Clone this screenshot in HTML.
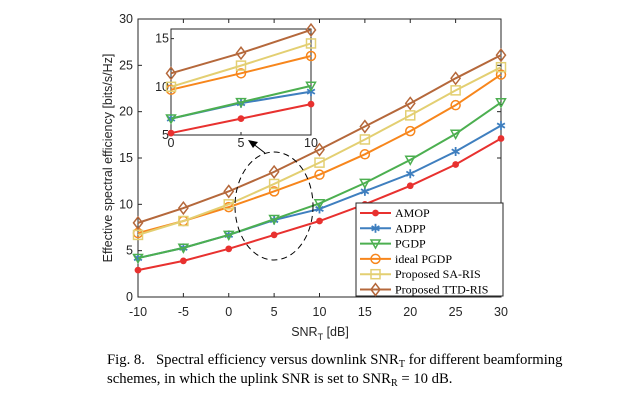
<!DOCTYPE html>
<html><head><meta charset="utf-8"><style>
body{margin:0;background:#fff;width:628px;height:403px;overflow:hidden}
svg{display:block}
.t{font-family:"Liberation Sans",sans-serif;font-size:12.5px;fill:#262626}
.s{font-family:"Liberation Serif",serif;fill:#000}
</style></head><body>
<svg id="c" width="628" height="403"></svg>
<script>
const xs=[-10,-5,0,5,10,15,20,25,30];
const names=["AMOP","ADPP","PGDP","ideal PGDP","Proposed SA-RIS","Proposed TTD-RIS"];
const amop=[2.9,3.9,5.2,6.7,8.2,10.0,12.0,14.3,17.1];
const adpp=[4.2,5.3,6.7,8.3,9.5,11.4,13.3,15.7,18.5];
const pgdp=[4.2,5.3,6.7,8.4,10.1,12.3,14.8,17.6,21.0];
const ideal=[6.9,8.2,9.7,11.4,13.2,15.4,17.9,20.7,24.0];
const sa=[6.7,8.2,10.0,12.2,14.5,17.0,19.6,22.3,24.8];
const ttd=[8.0,9.6,11.4,13.5,15.9,18.4,20.9,23.6,26.1];
const xTicks=[-10,-5,0,5,10,15,20,25,30];
const yTicks=[0,5,10,15,20,25,30];
const ixTicks=[0,5,10];
const iyTicks=[5,10,15];
const series=[amop,adpp,pgdp,ideal,sa,ttd];
const colors=["#e8312f","#3f7fbf","#4caf50","#f7861c","#e3cf72","#b5683b"];
const marks=["dot","star","tri","circ","sq","dia"];
const NS="http://www.w3.org/2000/svg";
const svg=document.getElementById('c');
function el(t,a,p){const e=document.createElementNS(NS,t);for(const k in a)e.setAttribute(k,a[k]);(p||svg).appendChild(e);return e;}
const X0=138,X1=501,Y0=297,Y1=19;
const sx=v=>X0+(v+10)/40*(X1-X0), sy=v=>Y0-v/30*(Y0-Y1);
const IX0=171,IX1=311,IY0=135,IY1=29;
const isx=v=>IX0+v/10*(IX1-IX0), isy=v=>IY0-(v-5)/11*(IY0-IY1);
function marker(g,type,x,y,c,r){
 if(type=="dot")el('circle',{cx:x,cy:y,r:r*0.75,fill:c},g);
 else if(type=="circ")el('circle',{cx:x,cy:y,r:r,fill:"none",stroke:c,'stroke-width':1.5},g);
 else if(type=="sq")el('rect',{x:x-r,y:y-r,width:2*r,height:2*r,fill:"none",stroke:c,'stroke-width':1.5},g);
 else if(type=="dia")el('polygon',{points:`${x},${y-r*1.3} ${x+r},${y} ${x},${y+r*1.3} ${x-r},${y}`,fill:"none",stroke:c,'stroke-width':1.5},g);
 else if(type=="tri")el('polygon',{points:`${x-r},${y-r*0.8} ${x+r},${y-r*0.8} ${x},${y+r}`,fill:"none",stroke:c,'stroke-width':1.5},g);
 else if(type=="star"){for(let a=0;a<3;a++){const an=a*Math.PI/3+Math.PI/2;el('line',{x1:x-r*Math.cos(an),y1:y-r*Math.sin(an),x2:x+r*Math.cos(an),y2:y+r*Math.sin(an),stroke:c,'stroke-width':1.8},g);}}
}
const ax=el('g',{});
el('rect',{x:X0,y:Y1,width:X1-X0,height:Y0-Y1,fill:"#fff",stroke:"#262626",'stroke-width':1},ax);
xTicks.forEach(v=>{const x=sx(v);el('line',{x1:x,y1:Y0,x2:x,y2:Y0-4,stroke:"#262626"},ax);el('line',{x1:x,y1:Y1,x2:x,y2:Y1+4,stroke:"#262626"},ax);
 const t=el('text',{x:x,y:316,'text-anchor':'middle',class:'t'},ax);t.textContent=v;});
yTicks.forEach(v=>{const y=sy(v);el('line',{x1:X0,y1:y,x2:X0+4,y2:y,stroke:"#262626"},ax);el('line',{x1:X1,y1:y,x2:X1-4,y2:y,stroke:"#262626"},ax);
 const t=el('text',{x:X0-5,y:y+4,'text-anchor':'end',class:'t'},ax);t.textContent=v;});
const xl=el('text',{x:320,y:336,'text-anchor':'middle',class:'t','font-size':'13'});xl.innerHTML='SNR<tspan dy="4" font-size="9">T</tspan><tspan dy="-4"> [dB]</tspan>';

const yl=el('text',{x:0,y:0,'text-anchor':'middle',class:'t','font-size':'13',transform:'translate(112,158) rotate(-90)'});yl.textContent='Effective spectral efficiency [bits/s/Hz]';

series.forEach((d,i)=>{const g=el('g',{});
 el('polyline',{points:d.map((v,j)=>sx(xs[j])+','+sy(v)).join(' '),fill:'none',stroke:colors[i],'stroke-width':2},g);
 d.forEach((v,j)=>marker(g,marks[i],sx(xs[j]),sy(v),colors[i],4.5));});
const ell=el('ellipse',{cx:274,cy:206,rx:39,ry:54,fill:'none',stroke:'#000','stroke-dasharray':'6,4','stroke-width':1});

const ar=el('g',{});
el('line',{x1:265,y1:153,x2:252,y2:143,stroke:'#000','stroke-width':1},ar);
el('polygon',{points:'248,140 258,142 253,148',fill:'#000'},ar);
const ins=el('g',{});
el('rect',{x:IX0,y:IY1,width:IX1-IX0,height:IY0-IY1,fill:'#fff',stroke:'#262626'},ins);
ixTicks.forEach(v=>{const x=isx(v);el('line',{x1:x,y1:IY0,x2:x,y2:IY0-3,stroke:'#262626'},ins);
 const t=el('text',{x:x,y:IY0+12,'text-anchor':'middle',class:'t','font-size':'10'},ins);t.textContent=v;});
iyTicks.forEach(v=>{const y=isy(v);el('line',{x1:IX0,y1:y,x2:IX0+3,y2:y,stroke:'#262626'},ins);
 const t=el('text',{x:IX0-2,y:y+4,'text-anchor':'end',class:'t','font-size':'10'},ins);t.textContent=v;});
series.forEach((d,i)=>{const g=el('g',{},ins);
 const idx=[2,3,4];el('polyline',{points:idx.map(j=>isx(xs[j])+','+isy(d[j])).join(' '),fill:'none',stroke:colors[i],'stroke-width':2},g);
 idx.forEach(j=>marker(g,marks[i],isx(xs[j]),isy(d[j]),colors[i],4.5));});
const lg=el('g',{});
el('rect',{x:356,y:203,width:147,height:93,fill:'#fff',stroke:'#262626'},lg);
names.forEach((n,i)=>{const y=213+i*15.3;const g=el('g',{},lg);
 el('line',{x1:360,y1:y,x2:391,y2:y,stroke:colors[i],'stroke-width':2},g);marker(g,marks[i],375.5,y,colors[i],4.5);
 const t=el('text',{x:395,y:y+4,class:'s','font-size':'12'},g);t.textContent=n;});
const c1=el('text',{x:107,y:364,class:'s','font-size':'14.7'});c1.innerHTML='Fig. 8.&#160;&#160; Spectral efficiency versus downlink SNR<tspan dy="3" font-size="10">T</tspan><tspan dy="-3"> for different beamforming</tspan>';

const c2=el('text',{x:107,y:383,class:'s','font-size':'14.7'});c2.innerHTML='schemes, in which the uplink SNR is set to SNR<tspan dy="3" font-size="10">R</tspan><tspan dy="-3"> = 10 dB.</tspan>';

</script>
</body></html>
